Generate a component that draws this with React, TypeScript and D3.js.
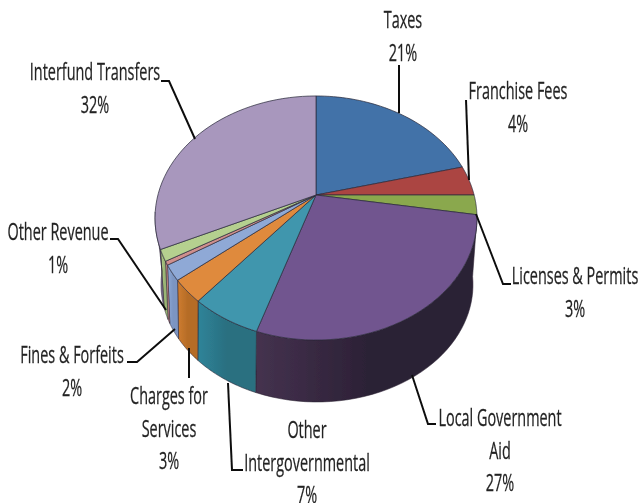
import React from "react";
import * as d3 from "d3";

const categories = ["Taxes", "Franchise Fees", "Licenses & Permits", "Local Government Aid", "Other Intergovernmental", "Charges for Services", "Fines & Forfeits", "Minor", "Other Revenue", "Interfund Transfers"];
const sliceValues = [21, 4, 2.6, 27.4, 6, 3, 2, 0.5, 1.5, 32];
const topColors = ["#4272a8", "#ab4542", "#8aa84e", "#71558f", "#4096ad", "#df8a3c", "#8fa9d6", "#cf8f8d", "#b5d08f", "#a897bd"];
const wallLight = ["#4272a8", "#ab4542", "#8aa84e", "#45324f", "#2f8499", "#cf7d30", "#8fa9d6", "#cf8f8d", "#b5d08f", "#8f80a3"];
const wallDark = ["#4272a8", "#ab4542", "#8aa84e", "#2c2136", "#2a6f80", "#b56c27", "#7b95c2", "#cf8f8d", "#9ab574", "#7d7090"];
const labelLines = [["Taxes", "21%"], ["Franchise Fees", "4%"], ["Licenses & Permits", "3%"], ["Local Government", "Aid", "27%"], ["Other", "Intergovernmental", "7%"], ["Charges for", "Services", "3%"], ["Fines & Forfeits", "2%"], ["Other Revenue", "1%"], ["Interfund Transfers", "32%"]];
const labelCenters = [[403, 20], [518, 91], [575, 276], [500, 418], [307, 430], [169, 396], [72, 355], [58, 232], [95, 72]];
const leaders = [
  [[399, 65], [399, 113]],
  [[466, 100], [469, 180]],
  [[476, 214], [503, 284], [511, 284]],
  [[412, 375], [428, 424], [436, 424]],
  [[228, 383], [232, 470], [243, 470]],
  [[189, 348], [189, 378]],
  [[175, 329], [137, 362], [127, 362]],
  [[166, 310], [118, 239], [110, 239]],
  [[195, 139], [169, 81], [161, 81]],
];

const pieArcs = d3.pie<number>().sort(null)(sliceValues);

const project = (a: number, lower = false): [number, number] => {
  const u = Math.sin(a), v = Math.cos(a);
  if (!lower) {
    const w = 1 + 0.1885 * v;
    return [316 + (158.1 * u) / w, 195 - (117.7 * v) / w];
  }
  const w = 1 + 0.25 * v;
  return [317 + (151 * u) / w, 255.3 - (110 * v) / w];
};

const line = d3.line();
const sample = (a0: number, a1: number, lower = false) =>
  d3.range(0, 41).map((i) => project(a0 + ((a1 - a0) * i) / 40, lower));

const WALL_START = (100.6 * Math.PI) / 180;
const WALL_END = (262 * Math.PI) / 180;

export default function App() {
  return (
    <svg width={640} height={503} style={{ position: "absolute", left: 0, top: 0, background: "#fff" }}>
      <defs>
        <filter id="soft" x="-5%" y="-5%" width="110%" height="110%">
          <feGaussianBlur stdDeviation="0.55" />
        </filter>
        {pieArcs.map((d, i) => (
          <linearGradient key={i} id={`w${i}`} x1="0" x2="1" y1="0" y2="0">
            <stop offset="0" stopColor={wallLight[i]} />
            <stop offset="0.5" stopColor={wallDark[i]} />
          </linearGradient>
        ))}
      </defs>
      <g filter="url(#soft)">
        {pieArcs.map((d, i) => {
          const a0 = Math.max(d.startAngle, WALL_START);
          const a1 = Math.min(d.endAngle, WALL_END);
          if (a1 <= a0) return null;
          const pts = [...sample(a0, a1), ...sample(a1, a0, true)];
          return <path key={i} d={line(pts)! + "Z"} fill={`url(#w${i})`} stroke="#2a2030" strokeWidth={0.8} strokeOpacity={0.7} />;
        })}
        {pieArcs.map((d, i) => {
          const pts = [[316, 195] as [number, number], ...sample(d.startAngle, d.endAngle)];
          return <path key={i} d={line(pts)! + "Z"} fill={topColors[i]} stroke="#2a2a3a" strokeWidth={0.9} strokeOpacity={0.8} />;
        })}
        {leaders.map((pts, i) => (
          <path key={i} d={line(pts as [number, number][])!} fill="none" stroke="#111" strokeWidth={2} />
        ))}
        {labelLines.map((lines, i) => (
          <g key={i} transform={`translate(${labelCenters[i][0]},${labelCenters[i][1]}) scale(0.78,1.28)`}>
            {lines.map((t, j) => (
              <text key={j} x={0} y={(j * 32.5) / 1.28} dy="0.35em" textAnchor="middle" fontFamily="'Open Sans', sans-serif" fontSize={18.5} fill="#222" stroke="#222" strokeWidth={0.2}>
                {t}
              </text>
            ))}
          </g>
        ))}
      </g>
    </svg>
  );
}
